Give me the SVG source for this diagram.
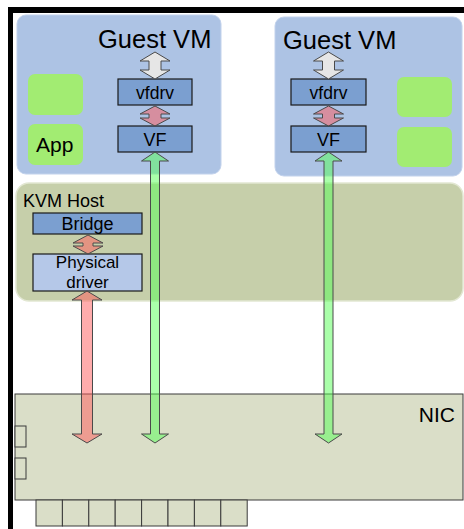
<svg xmlns="http://www.w3.org/2000/svg" width="464" height="529" viewBox="0 0 464 529">
  <style>
    text { font-family: "Liberation Sans", Arial, sans-serif; fill: #000; }
    .vm { fill: #adc3e4; stroke: #c2d2ec; stroke-width: 1; }
    .app { fill: #a2ec72; }
    .drv { fill: #7b9fd0; stroke: #1a1a1a; stroke-width: 1.2; }
    .phy { fill: #b5c8e8; stroke: #1a1a1a; stroke-width: 1.2; }
    .host { fill: #c6cfaa; stroke: #e2e7d2; stroke-width: 1.5; }
    .nic { fill: #dadec8; stroke: #3a3a3a; stroke-width: 1; }
    .arrow { stroke: #4a4a4a; stroke-width: 1; stroke-linejoin: miter; }
    .gray { fill: #e6e6e6; }
    .red { fill: #ff5a5a; fill-opacity: 0.5; }
    .green { fill: #55ff55; fill-opacity: 0.5; }
  </style>

  <!-- outer frame -->
  <rect x="8" y="7" width="456" height="6" fill="#000"/>
  <rect x="8" y="7" width="5" height="522" fill="#000"/>

  <!-- first guest VM -->
  <g id="guest-vm-1">
    <rect class="vm" x="17" y="15" width="204" height="159" rx="9"/>
    <text x="98" y="48" font-size="25.5">Guest VM</text>
  </g>
  <g id="vm1-box-top">
    <rect class="app" x="28" y="74" width="55" height="41" rx="7"/>
  </g>
  <g id="vm1-app">
    <rect class="app" x="28" y="124" width="55" height="41" rx="7"/>
    <text x="36" y="152" font-size="21">App</text>
  </g>
  <g id="vm1-vfdrv">
    <rect class="drv" x="118" y="79" width="74" height="26"/>
    <text x="155" y="98.5" font-size="17.5" text-anchor="middle">vfdrv</text>
  </g>
  <g id="vm1-vf">
    <rect class="drv" x="118" y="126" width="74" height="26"/>
    <text x="155" y="145.5" font-size="18" text-anchor="middle">VF</text>
  </g>

  <!-- second guest VM -->
  <g id="guest-vm-2">
    <rect class="vm" x="275" y="17" width="187" height="159" rx="9"/>
    <text x="283" y="49" font-size="25.5">Guest VM</text>
  </g>
  <g id="vm2-box-top">
    <rect class="app" x="397" y="77" width="55" height="40" rx="7"/>
  </g>
  <g id="vm2-box-bottom">
    <rect class="app" x="397" y="127" width="55" height="40" rx="7"/>
  </g>
  <g id="vm2-vfdrv">
    <rect class="drv" x="291" y="79" width="75" height="26"/>
    <text x="328.5" y="98.5" font-size="17.5" text-anchor="middle">vfdrv</text>
  </g>
  <g id="vm2-vf">
    <rect class="drv" x="291" y="126" width="75" height="26"/>
    <text x="328.5" y="145.5" font-size="18" text-anchor="middle">VF</text>
  </g>

  <!-- KVM host -->
  <g id="kvm-host">
    <rect class="host" x="16" y="183" width="447" height="118" rx="13"/>
    <text x="23" y="207" font-size="18">KVM Host</text>
  </g>
  <g id="bridge">
    <rect class="drv" x="33" y="213" width="109" height="21"/>
    <text x="87.5" y="229.5" font-size="18" text-anchor="middle">Bridge</text>
  </g>
  <g id="physical-driver">
    <rect class="phy" x="33" y="254" width="109" height="37"/>
    <text x="87.5" y="268" font-size="17" text-anchor="middle">Physical</text>
    <text x="87.5" y="287.5" font-size="17" text-anchor="middle">driver</text>
  </g>

  <!-- NIC card with side tabs and edge connector pins -->
  <g id="nic">
    <rect class="nic" x="15" y="394" width="448" height="106"/>
    <rect class="nic" x="15" y="426" width="11" height="21"/>
    <rect class="nic" x="15" y="458" width="11" height="21"/>
    <rect class="nic" x="36" y="500" width="26.4" height="26"/>
    <rect class="nic" x="62.4" y="500" width="26.4" height="26"/>
    <rect class="nic" x="88.8" y="500" width="26.4" height="26"/>
    <rect class="nic" x="115.2" y="500" width="26.4" height="26"/>
    <rect class="nic" x="141.6" y="500" width="26.4" height="26"/>
    <rect class="nic" x="168" y="500" width="26.4" height="26"/>
    <rect class="nic" x="194.4" y="500" width="26.4" height="26"/>
    <rect class="nic" x="220.8" y="500" width="26.4" height="26"/>
    <text x="455" y="421.5" font-size="21" text-anchor="end">NIC</text>
  </g>

  <!-- connectors: double-headed block arrows -->
  <g id="connectors">
    <!-- guest VM 1 -->
    <path class="arrow gray" d="M155,52 L170,61 L161,61 L161,70 L170,70 L155,79 L140,70 L149,70 L149,61 L140,61 Z"/>
    <path class="arrow red" d="M155,106 L170,114 L161,114 L161,118 L170,118 L155,126 L140,118 L149,118 L149,114 L140,114 Z"/>
    <path class="arrow green" d="M155,152 L168.5,161 L159.5,161 L159.5,434 L168.5,434 L155,443 L141.5,434 L150.5,434 L150.5,161 L141.5,161 Z"/>
    <!-- guest VM 2 -->
    <path class="arrow gray" d="M328.5,52 L343.5,61 L334.5,61 L334.5,70 L343.5,70 L328.5,79 L313.5,70 L322.5,70 L322.5,61 L313.5,61 Z"/>
    <path class="arrow red" d="M328.5,106 L343.5,114 L334.5,114 L334.5,118 L343.5,118 L328.5,126 L313.5,118 L322.5,118 L322.5,114 L313.5,114 Z"/>
    <path class="arrow green" d="M328.5,152 L342,161 L333,161 L333,434 L342,434 L328.5,443 L315,434 L324,434 L324,161 L315,161 Z"/>
    <!-- KVM host -->
    <path class="arrow red" d="M88,235 L103,243 L93,243 L93,246 L103,246 L88,254 L73,246 L83,246 L83,243 L73,243 Z"/>
    <path class="arrow red" d="M87,291 L102,300 L92.5,300 L92.5,434 L102,434 L87,443 L72,434 L81.5,434 L81.5,300 L72,300 Z"/>
  </g>
</svg>
